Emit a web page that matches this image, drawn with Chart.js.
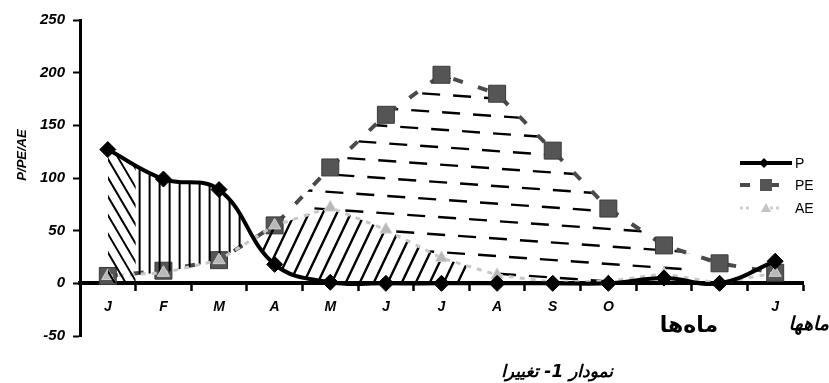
<!DOCTYPE html>
<html><head><meta charset="utf-8">
<script src="https://cdn.jsdelivr.net/npm/chart.js@4.4.0/dist/chart.umd.min.js"></script>
<style>html,body{margin:0;padding:0;background:#fff;}#wrap{width:829px;height:383px;}</style>
</head><body><div id="wrap"><canvas id="c" width="829" height="383"></canvas></div>
<script>
// ---- data ----
const months = ['J','F','M','A','M','J','J','A','S','O','','','J'];
const P  = [127, 99, 89, 18, 1, 0, 0, 0, 0, 0, 5, 0, 21];
const PE = [7, 12, 22, 55, 110, 160, 198, 180, 126, 71, 36, 19, 10];
const AE = [7, 10, 22, 55, 72, 51, 24, 8, 1, 2, 9, 0, 10];
const yTickValues = [-50, 0, 50, 100, 150, 200, 250];
const seriesNames = ['P', 'PE', 'AE'];
const yTitle = 'P/PE/AE';
const xTitleA = 'ماه‌ها';
const xTitleB = 'ماهها';
const caption = 'نمودار 1- تغییرا';
// hatch zones, given as category-boundary indices (boundary k lies between month k-1 and month k)
const zoneBack = [0, 1];   // P above axis
const zoneVert = [1, 3];   // P above AE (surplus)
const zoneFwd  = [3, 7];   // AE above P (soil moisture use)
const zoneDash = [4, 11];  // PE above AE (deficit)

const FONT = "'Liberation Sans', Arial, sans-serif";
const AFONT = "'DejaVu Sans', sans-serif";

function hatch(chart, zone, kind) {
  const c = document.createElement('canvas');
  c.width = chart.width; c.height = chart.height;
  const g = c.getContext('2d');
  const xs = chart.scales.x, a = chart.chartArea;
  const x0 = xs.getPixelForValue(zone[0] - 0.5), x1 = xs.getPixelForValue(zone[1] - 0.5);
  const H = a.bottom - a.top;
  g.save(); g.beginPath(); g.rect(x0, a.top, x1 - x0, H); g.clip();
  g.strokeStyle = '#000'; g.beginPath();
  if (kind === 'back') {
    g.lineWidth = 2; const run = H / 1.7;
    for (let s = x0 - run; s < x1 + 12; s += 11) { g.moveTo(s, a.top); g.lineTo(s + run, a.bottom); }
  } else if (kind === 'vert') {
    g.lineWidth = 2;
    for (let s = x0 + 4; s < x1; s += 10) { g.moveTo(s, a.top); g.lineTo(s, a.bottom); }
  } else if (kind === 'fwd') {
    g.lineWidth = 2.4; const run = H / 2.1;
    for (let s = x0 - run; s < x1 + 14; s += 14) { g.moveTo(s, a.bottom); g.lineTo(s + run, a.top); }
  }
  g.stroke();
  if (kind === 'dash') {
    g.lineWidth = 2.4; g.setLineDash([18, 13]);
    let row = 0;
    for (let y = a.top - 40; y < a.bottom; y += 17.5, row++) {
      g.beginPath(); g.lineDashOffset = (row * 11) % 31;
      g.moveTo(x0, y); g.lineTo(x1, y + 0.07 * (x1 - x0)); g.stroke();
    }
  }
  g.restore();
  return chart.ctx.createPattern(c, 'no-repeat');
}

const textPlugin = {
  id: 'texts',
  afterDraw(chart) {
    const g = chart.ctx;
    g.save();
    // y title
    g.save();
    g.translate(22, 155); g.rotate(-Math.PI / 2);
    g.font = 'italic bold 13px ' + FONT; g.fillStyle = '#000';
    g.textAlign = 'center'; g.textBaseline = 'middle';
    g.fillText(yTitle, 0, 0);
    g.restore();
    // legend
    const lx = 740, lw = 52, rows = [163, 185, 208];
    const metas = chart.data.datasets;
    g.strokeStyle = '#000'; g.lineWidth = 4; g.setLineDash([]);
    g.beginPath(); g.moveTo(lx, rows[0]); g.lineTo(lx + lw, rows[0]); g.stroke();
    g.fillStyle = '#000'; g.beginPath();
    g.moveTo(lx + 24, rows[0] - 5); g.lineTo(lx + 29, rows[0]); g.lineTo(lx + 24, rows[0] + 5); g.lineTo(lx + 19, rows[0]); g.closePath(); g.fill();
    g.strokeStyle = metas[1].borderColor; g.lineWidth = 4;
    g.beginPath(); g.moveTo(lx, rows[1]); g.lineTo(lx + 10, rows[1]); g.moveTo(lx + 30, rows[1]); g.lineTo(lx + 39, rows[1]); g.stroke();
    g.fillStyle = metas[1].pointBackgroundColor; g.fillRect(lx + 20, rows[1] - 6, 12, 12);
    g.strokeStyle = '#cfcfcf'; g.lineWidth = 3; g.setLineDash([3, 3]);
    g.beginPath(); g.moveTo(lx, rows[2]); g.lineTo(lx + 10, rows[2]); g.moveTo(lx + 30, rows[2]); g.lineTo(lx + 39, rows[2]); g.stroke();
    g.setLineDash([]);
    g.fillStyle = '#c4c4c4'; g.beginPath();
    g.moveTo(lx + 26, rows[2] - 5); g.lineTo(lx + 31, rows[2] + 4); g.lineTo(lx + 21, rows[2] + 4); g.closePath(); g.fill();
    g.fillStyle = '#000'; g.font = '14px ' + FONT; g.textAlign = 'left'; g.textBaseline = 'middle';
    seriesNames.forEach((n, i) => g.fillText(n, lx + lw + 3, rows[i] + 1));
    // arabic texts
    g.direction = 'rtl';
    g.textBaseline = 'alphabetic';
    g.font = 'bold 22px ' + AFONT; g.textAlign = 'center';
    g.fillText(xTitleA, 689, 332);
    g.font = 'italic bold 19px ' + AFONT; g.textAlign = 'right';
    g.fillText(xTitleB, 829, 330);
    g.font = 'italic bold 17px ' + AFONT; g.textAlign = 'right';
    g.fillText(caption, 613, 377);
    g.restore();
  }
};

const ctx = document.getElementById('c').getContext('2d');
const chart = new Chart(ctx, {
  type: 'line',
  data: {
    labels: months,
    datasets: [
      { label: seriesNames[0], data: P, borderColor: '#000', borderWidth: 4, backgroundColor: 'transparent',
        tension: 0.4, pointStyle: 'rectRot', pointRadius: 8, pointBackgroundColor: '#000', pointBorderColor: '#000',
        pointBorderWidth: 1, fill: false, order: 0 },
      { label: seriesNames[1], data: PE, borderColor: '#4a4a4a', borderWidth: 4, borderDash: [10, 16], backgroundColor: 'transparent',
        tension: 0, pointStyle: 'rect', pointRadius: 12, pointBackgroundColor: '#555', pointBorderColor: '#3a3a3a',
        pointBorderWidth: 1, fill: false, order: 2 },
      { label: seriesNames[2], data: AE, borderColor: '#c8c8c8', borderWidth: 3, borderDash: [5, 6], backgroundColor: 'transparent',
        tension: 0, pointStyle: 'triangle', pointRadius: 7, pointBackgroundColor: '#b8b8b8', pointBorderColor: '#d2d2d2',
        pointBorderWidth: 1, fill: false, order: 1 }
    ]
  },
  options: {
    responsive: false, animation: false,
    layout: { padding: { left: 0, right: 26, top: 20, bottom: 47 } },
    plugins: { legend: { display: false }, tooltip: { enabled: false } },
    elements: { line: { borderJoinStyle: 'round' } },
    scales: {
      x: { type: 'category', offset: true, position: { y: 0 },
        grid: { drawOnChartArea: false, drawTicks: true, tickLength: 6, tickWidth: 2.5, tickColor: '#000', offset: true },
        border: { display: true, color: '#000', width: 4 },
        ticks: { color: '#000', font: { family: FONT, size: 14, weight: 'bold', style: 'italic' }, padding: 9, autoSkip: false, maxRotation: 0 } },
      y: { min: yTickValues[0], max: yTickValues[yTickValues.length - 1],
        afterBuildTicks: s => { s.ticks = yTickValues.map(v => ({ value: v })); },
        afterFit: s => { s.width = 80; },
        grid: { drawOnChartArea: false, drawTicks: true, tickLength: 7, tickWidth: 2, tickColor: '#000' },
        border: { display: true, color: '#000', width: 3 },
        ticks: { color: '#000', font: { family: FONT, size: 15, weight: 'bold', style: 'italic' }, padding: 8 } }
    }
  },
  plugins: [textPlugin]
});

chart.data.datasets[0].fill = { target: 'origin', above: hatch(chart, zoneBack, 'back'), below: 'transparent' };
chart.data.datasets[1].fill = { target: 2, above: hatch(chart, zoneDash, 'dash'), below: 'transparent' };
chart.data.datasets[2].fill = { target: 0, above: hatch(chart, zoneFwd, 'fwd'), below: hatch(chart, zoneVert, 'vert') };
chart.update('none');
</script></body></html>
